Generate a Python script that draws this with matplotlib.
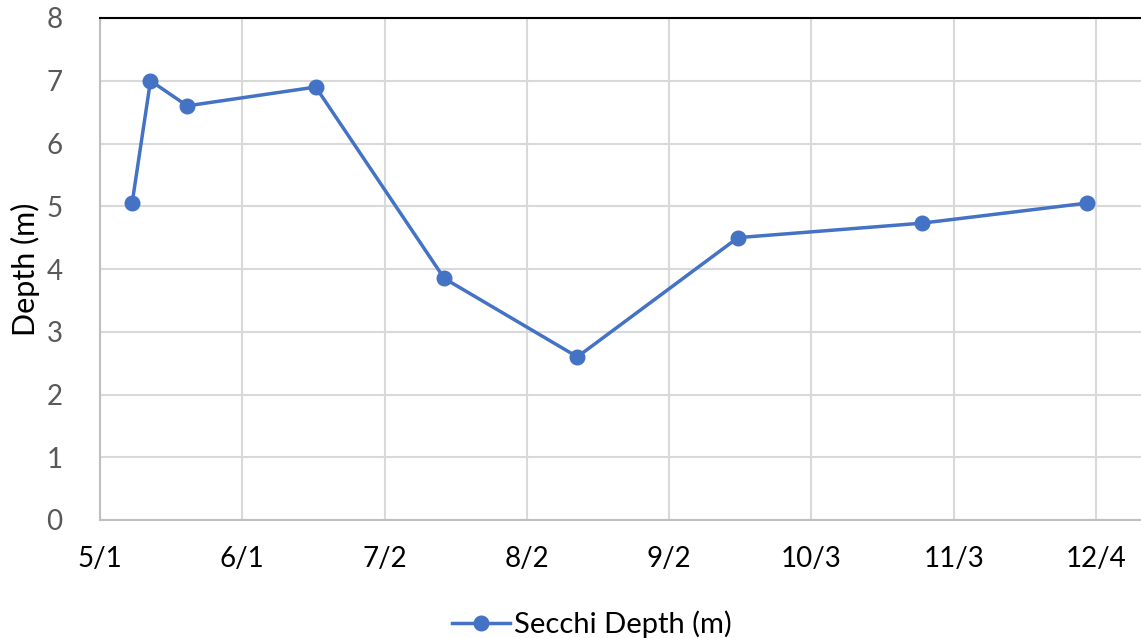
import matplotlib
matplotlib.use("Agg")
import matplotlib.pyplot as plt
from datetime import datetime, timedelta

plt.rcParams['font.family'] = ['Lato', 'DejaVu Sans']

# Secchi depth samples
dates = ["2019-05-08", "2019-05-12", "2019-05-20", "2019-06-17", "2019-07-15",
         "2019-08-13", "2019-09-17", "2019-10-27", "2019-12-02"]
depth_m = [5.05, 7.0, 6.6, 6.9, 3.85, 2.6, 4.5, 4.73, 5.05]

x_start = datetime(2019, 5, 1)
tick_step_days = 31
n_ticks = 8
y_ticks = [0, 1, 2, 3, 4, 5, 6, 7, 8]

dt = [datetime.strptime(d, "%Y-%m-%d") for d in dates]
ticks = [x_start + timedelta(days=tick_step_days * k) for k in range(n_ticks)]
tick_labels = [f"{t.month}/{t.day}" for t in ticks]

fig = plt.figure(figsize=(11.41, 6.38), dpi=100)
ax = fig.add_axes([100 / 1141, 118 / 638, 1 - 100 / 1141, (520 - 18) / 638])

blue = "#4472C4"
ax.plot(dt, depth_m, color=blue, lw=2.5, marker="o", ms=10.5,
        label="Secchi Depth (m)", zorder=3, clip_on=False)

ax.set_xlim(x_start, x_start + timedelta(days=226.8))
ax.set_ylim(0, 8)
ax.set_xticks(ticks)
ax.set_xticklabels(tick_labels)
ax.set_yticks(y_ticks)

ax.grid(True, color="#d9d9d9", lw=1.5, zorder=0)
ax.set_axisbelow(True)

ax.spines["right"].set_visible(False)
ax.spines["top"].set_color("#000000")
ax.spines["top"].set_linewidth(1.5)
ax.spines["left"].set_color("#bfbfbf")
ax.spines["left"].set_linewidth(1.5)
ax.spines["bottom"].set_color("#bfbfbf")
ax.spines["bottom"].set_linewidth(1.5)

ax.tick_params(axis="both", length=0)
ax.tick_params(axis="y", labelsize=20, labelcolor="#595959", pad=27)
ax.tick_params(axis="x", labelsize=20, labelcolor="#000000", pad=19)

ax.set_ylabel("Depth (m)", fontsize=22, color="#000000")
ax.yaxis.set_label_coords(-60 / 1041, 0.5)

leg = fig.legend(loc="center", frameon=False, fontsize=21,
                 handlelength=2.0, handletextpad=0.15)
leg.set_bbox_to_anchor((592 / 1141, 1 - 624 / 638), transform=fig.transFigure)

fig.savefig("out.png", dpi=100)
